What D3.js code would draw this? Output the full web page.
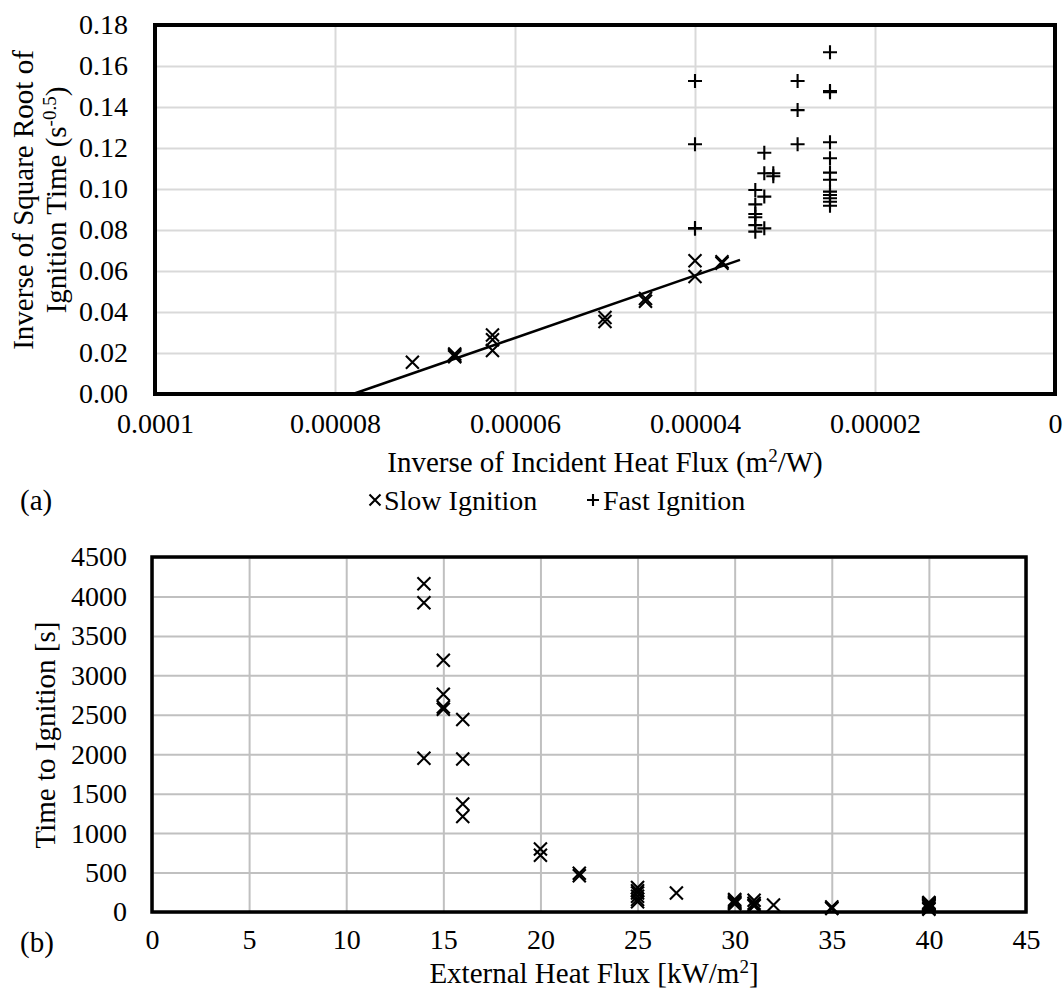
<!DOCTYPE html>
<html lang="en">
<head>
	<meta charset="UTF-8">
	<title>Ignition time charts</title>
	<script type="text/javascript" src="https://cdnjs.cloudflare.com/ajax/libs/d3/7.8.5/d3.min.js"></script>
	<style>
		body { margin: 0; background: #fff; }
		text { font-family: "Liberation Serif", "Times New Roman", serif; fill: #000; }
		.grid line { stroke: #d9d9d9; stroke-width: 2; }
		.grid2 line { stroke: #c0c0c0; stroke-width: 2; }
		.grid path, .grid2 path { display: none; }
		.mark { stroke: #000; stroke-width: 2.1; fill: none; }
	</style>
</head>
<body>
<script type="text/javascript">
	// (a) inverse of incident heat flux (m2/W) vs 1/sqrt(t_ig)
	var slowInvFlux = [0.0000714, 0.0000667, 0.0000667, 0.0000667, 0.0000625, 0.0000625, 0.0000625,
		0.00005, 0.00005, 0.0000455, 0.0000455, 0.00004, 0.00004, 0.000037, 0.000037];
	var slowInvRoot = [0.0155, 0.0182, 0.0188, 0.0195, 0.0288, 0.0265, 0.0212,
		0.0373, 0.0354, 0.0466, 0.0452, 0.065, 0.0573, 0.0645, 0.0638];

	var fastInvFlux = [0.00004, 0.00004, 0.00004, 0.00004,
		0.0000333, 0.0000333, 0.0000333, 0.0000333, 0.0000333, 0.0000333,
		0.0000323, 0.0000323, 0.0000323, 0.0000323,
		0.0000313, 0.0000313,
		0.0000286, 0.0000286, 0.0000286,
		0.000025, 0.000025, 0.000025, 0.000025, 0.000025, 0.000025,
		0.000025, 0.000025, 0.000025, 0.000025, 0.000025, 0.000025];
	var fastInvRoot = [0.1527, 0.1218, 0.0810, 0.0806,
		0.0995, 0.0925, 0.0878, 0.0862, 0.0824, 0.0792,
		0.1177, 0.1077, 0.0963, 0.0808,
		0.1077, 0.1062,
		0.1527, 0.1385, 0.1218,
		0.1667, 0.1478, 0.1472, 0.1228, 0.115, 0.108,
		0.1045, 0.0987, 0.0971, 0.0955, 0.0938, 0.0918];

	// linear fit through slow ignition points
	var trendInvFlux = [0.000078, 0.000035];
	var trendInvRoot = [0, 0.0654];

	var topXTicks = [0.0001, 0.00008, 0.00006, 0.00004, 0.00002, 0];
	var topXTickLabels = ['0.0001', '0.00008', '0.00006', '0.00004', '0.00002', '0'];
	var topYTicks = [0, 0.02, 0.04, 0.06, 0.08, 0.10, 0.12, 0.14, 0.16, 0.18];

	// (b) external heat flux (kW/m2) vs time to ignition (s)
	var flux = [14, 14, 14, 15, 15, 15, 15, 16, 16, 16, 16, 20, 20, 22, 22,
		25, 25, 25, 25, 25, 25, 27, 30, 30, 30, 30, 30, 30, 31, 31, 31, 31, 32,
		35, 35, 35, 40, 40, 40, 40, 40, 40, 40, 40, 40, 40];
	var igTime = [4160, 3920, 1950, 3190, 2760, 2600, 2570, 2440, 1940, 1370, 1210, 800, 720, 490, 460,
		310, 270, 240, 200, 160, 130, 240, 160, 145, 130, 120, 110, 100, 150, 110, 90, 75, 90,
		65, 50, 45, 120, 110, 105, 100, 90, 85, 75, 65, 45, 35];

	var botXTicks = [0, 5, 10, 15, 20, 25, 30, 35, 40, 45];
	var botYTicks = [0, 500, 1000, 1500, 2000, 2500, 3000, 3500, 4000, 4500];

	window.onload = function () {
		var svg = d3.select('body').append('svg')
			.attr('width', 1063)
			.attr('height', 988);

		function cross(sel, s) {
			sel.attr('d', 'M' + (-s) + ',' + (-s) + 'L' + s + ',' + s + 'M' + (-s) + ',' + s + 'L' + s + ',' + (-s));
		}
		function plus(sel, s) {
			sel.attr('d', 'M' + (-s) + ',0L' + s + ',0M0,' + (-s) + 'L0,' + s);
		}

		// ---------- chart (a) ----------
		var a = {left: 155, top: 25, right: 1055, bottom: 394};
		var xa = d3.scaleLinear().domain([0.0001, 0]).range([a.left, a.right]);
		var ya = d3.scaleLinear().domain([0, 0.18]).range([a.bottom, a.top]);

		svg.append('g').attr('class', 'grid')
			.attr('transform', 'translate(0,' + a.bottom + ')')
			.call(d3.axisBottom(xa).tickValues(topXTicks).tickSize(-(a.bottom - a.top)).tickFormat(''));
		svg.append('g').attr('class', 'grid')
			.attr('transform', 'translate(' + a.left + ',0)')
			.call(d3.axisLeft(ya).tickValues(topYTicks).tickSize(-(a.right - a.left)).tickFormat(''));

		var axA = svg.append('g')
			.attr('transform', 'translate(0,' + a.bottom + ')')
			.call(d3.axisBottom(xa).tickValues(topXTicks).tickSize(0).tickPadding(19)
				.tickFormat(function (d, i) { return topXTickLabels[i]; }));
		var ayA = svg.append('g')
			.attr('transform', 'translate(' + a.left + ',0)')
			.call(d3.axisLeft(ya).tickValues(topYTicks).tickSize(0).tickPadding(27).tickFormat(d3.format('.2f')));
		[axA, ayA].forEach(function (g) {
			g.select('.domain').remove();
			g.selectAll('text').attr('font-size', 28).attr('font-family', null);
		});

		svg.append('rect')
			.attr('x', a.left).attr('y', a.top)
			.attr('width', a.right - a.left).attr('height', a.bottom - a.top)
			.attr('fill', 'none').attr('stroke', '#000').attr('stroke-width', 4);

		var line = d3.line()
			.x(function (d) { return xa(d[0]); })
			.y(function (d) { return ya(d[1]); });
		svg.append('path')
			.datum(d3.zip(trendInvFlux, trendInvRoot))
			.attr('d', line)
			.attr('fill', 'none').attr('stroke', '#000').attr('stroke-width', 2.5);

		svg.selectAll('.slow')
			.data(d3.zip(slowInvFlux, slowInvRoot))
			.enter().append('path')
			.attr('class', 'mark slow')
			.attr('transform', function (d) { return 'translate(' + xa(d[0]) + ',' + ya(d[1]) + ')'; })
			.call(cross, 6.5);

		svg.selectAll('.fast')
			.data(d3.zip(fastInvFlux, fastInvRoot))
			.enter().append('path')
			.attr('class', 'mark fast')
			.attr('transform', function (d) { return 'translate(' + xa(d[0]) + ',' + ya(d[1]) + ')'; })
			.call(plus, 7);

		var t1 = svg.append('text')
			.attr('text-anchor', 'middle').attr('font-size', 29)
			.attr('x', 605).attr('y', 472);
		t1.append('tspan').text('Inverse of Incident Heat Flux (m');
		t1.append('tspan').attr('baseline-shift', 'super').attr('font-size', 19).text('2');
		t1.append('tspan').text('/W)');

		var yt = svg.append('text')
			.attr('text-anchor', 'middle').attr('font-size', 29)
			.attr('transform', 'translate(33,200) rotate(-90)');
		yt.append('tspan').attr('x', 0).attr('y', 0).text('Inverse of Square Root of');
		var l2 = yt.append('tspan').attr('x', 0).attr('y', 33);
		l2.append('tspan').text('Ignition Time (s');
		l2.append('tspan').attr('baseline-shift', 'super').attr('font-size', 19).text('-0.5');
		l2.append('tspan').text(')');

		svg.append('text').attr('x', 20).attr('y', 510).attr('font-size', 29).text('(a)');

		// legend
		svg.append('path').attr('class', 'mark')
			.attr('transform', 'translate(375,500)').attr('stroke-width', 1.8).call(cross, 5.5);
		svg.append('text').attr('x', 384).attr('y', 510).attr('font-size', 28).text('Slow Ignition');
		svg.append('path').attr('class', 'mark')
			.attr('transform', 'translate(593,500)').attr('stroke-width', 1.8).call(plus, 6);
		svg.append('text').attr('x', 603).attr('y', 510).attr('font-size', 28).text('Fast Ignition');

		// ---------- chart (b) ----------
		var b = {left: 152, top: 557, right: 1026, bottom: 912};
		var xb = d3.scaleLinear().domain([0, 45]).range([b.left, b.right]);
		var yb = d3.scaleLinear().domain([0, 4500]).range([b.bottom, b.top]);

		svg.append('g').attr('class', 'grid2')
			.attr('transform', 'translate(0,' + b.bottom + ')')
			.call(d3.axisBottom(xb).tickValues(botXTicks).tickSize(-(b.bottom - b.top)).tickFormat(''));
		svg.append('g').attr('class', 'grid2')
			.attr('transform', 'translate(' + b.left + ',0)')
			.call(d3.axisLeft(yb).tickValues(botYTicks).tickSize(-(b.right - b.left)).tickFormat(''));

		var axB = svg.append('g')
			.attr('transform', 'translate(0,' + b.bottom + ')')
			.call(d3.axisBottom(xb).tickValues(botXTicks).tickSize(0).tickPadding(17).tickFormat(d3.format('d')));
		var ayB = svg.append('g')
			.attr('transform', 'translate(' + b.left + ',0)')
			.call(d3.axisLeft(yb).tickValues(botYTicks).tickSize(0).tickPadding(25).tickFormat(d3.format('d')));
		[axB, ayB].forEach(function (g) {
			g.select('.domain').remove();
			g.selectAll('text').attr('font-size', 28).attr('font-family', null);
		});

		svg.append('rect')
			.attr('x', b.left).attr('y', b.top)
			.attr('width', b.right - b.left).attr('height', b.bottom - b.top)
			.attr('fill', 'none').attr('stroke', '#000').attr('stroke-width', 3.5);

		svg.selectAll('.ig')
			.data(d3.zip(flux, igTime))
			.enter().append('path')
			.attr('class', 'mark ig')
			.attr('transform', function (d) { return 'translate(' + xb(d[0]) + ',' + yb(d[1]) + ')'; })
			.call(cross, 6.5);

		var t2 = svg.append('text')
			.attr('text-anchor', 'middle').attr('font-size', 29)
			.attr('x', 594).attr('y', 983);
		t2.append('tspan').text('External Heat Flux [kW/m');
		t2.append('tspan').attr('baseline-shift', 'super').attr('font-size', 19).text('2');
		t2.append('tspan').text(']');

		svg.append('text')
			.attr('text-anchor', 'middle').attr('font-size', 29)
			.attr('transform', 'translate(55,735) rotate(-90)')
			.text('Time to Ignition [s]');

		svg.append('text').attr('x', 20).attr('y', 952).attr('font-size', 29).text('(b)');
	};
</script>
</body>
</html>
